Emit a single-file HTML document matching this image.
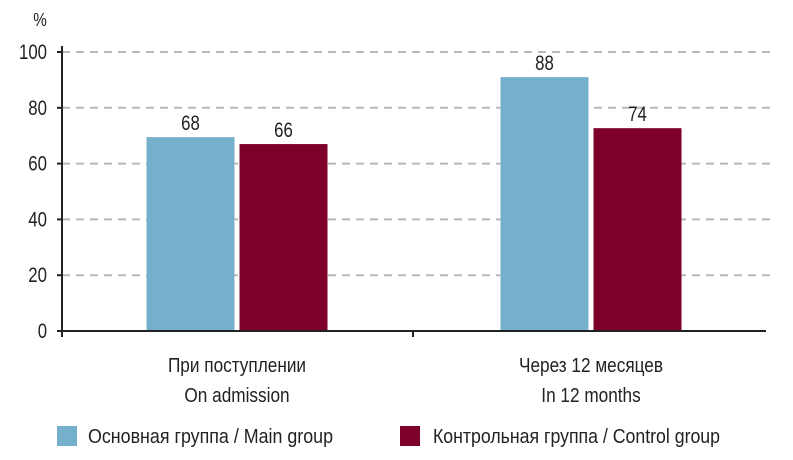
<!DOCTYPE html>
<html><head><meta charset="utf-8">
<style>
html,body{margin:0;padding:0;background:#fff;}
svg{display:block;font-family:"Liberation Sans Narrow","Liberation Sans",sans-serif;}
</style></head>
<body>
<svg id="chart" width="793" height="460" viewBox="0 0 793 460" xmlns="http://www.w3.org/2000/svg"></svg>
<script>
const categoriesRu = ["При поступлении", "Через 12 месяцев"];
const categoriesEn = ["On admission", "In 12 months"];
const seriesNames = ["Основная группа / Main group", "Контрольная группа / Control group"];
const mainGroup = [69.5, 91];
const controlGroup = [67, 72.7];
const mainLabels = [68, 88];
const controlLabels = [66, 74];
const yTicks = [0, 20, 40, 60, 80, 100];
const colors = ["#74b0cc", "#7d002b"];

const NS = "http://www.w3.org/2000/svg";
const svg = document.getElementById("chart");
const X0 = 62, X1 = 770, Y0 = 331, Y100 = 52;
function yScale(v){ return Y0 - (v/100)*(Y0-Y100); }
const catW = (X1-X0)/categoriesRu.length;
function catCenter(i){ return X0 + catW*(i+0.5) - 2; }
const barW = 88, gap = 5;
function mk(tag, attrs, parent){
  const e = document.createElementNS(NS, tag);
  for (const k in attrs) e.setAttribute(k, attrs[k]);
  (parent||svg).appendChild(e);
  return e;
}
function txt(s, attrs, ratio){
  const t = mk("text", attrs); t.textContent = s;
  const w = t.getComputedTextLength();
  t.setAttribute("textLength", (w*(ratio||0.8)).toFixed(1));
  t.setAttribute("lengthAdjust", "spacingAndGlyphs");
  return t;
}

yTicks.forEach(v => {
  const y = yScale(v);
  if (v > 0) {
    const g = mk("line", {x1:X0, x2:772, y1:y, y2:y, stroke:"#b8b8b8", "stroke-width":2, "stroke-dasharray":"8,6"});
    
    
  }
  const tk = mk("line", {x1:X0-5, x2:X0, y1:y, y2:y, stroke:"#222", "stroke-width":2});
  
  
  const t = txt(String(v), {x:47, y:y+7, "text-anchor":"end", "font-size":21, fill:"#222"}, 0.8);
  
  
});
const unit = txt("%", {x:40, y:26, "text-anchor":"middle", "font-size":18, fill:"#222"}, 0.85);



const series = [mainGroup, controlGroup];
const labels = [mainLabels, controlLabels];
categoriesRu.forEach((c, i) => {
  const cx = catCenter(i);
  series.forEach((s, j) => {
    const x = j === 0 ? cx - gap/2 - barW : cx + gap/2;
    const y = yScale(s[i]);
    const r = mk("rect", {x:x, y:y, width:barW, height:Y0-y, fill:colors[j]});
    
    
    const l = txt(String(labels[j][i]), {x:x+barW/2, y:y-7, "text-anchor":"middle", "font-size":21, fill:"#222"}, 0.8);
    
    
  });
  const t1 = txt(c, {x:cx, y:372, "text-anchor":"middle", "font-size":20, fill:"#222"}, 0.86);
  
  
  const t2 = txt(categoriesEn[i], {x:cx, y:402, "text-anchor":"middle", "font-size":20, fill:"#222"}, 0.86);
  
  
});

const ya = mk("line", {x1:X0, x2:X0, y1:46, y2:Y0+6, stroke:"#222", "stroke-width":2});


const xa = mk("line", {x1:X0-5, x2:766, y1:Y0, y2:Y0, stroke:"#222", "stroke-width":2});


for (let i = 1; i < categoriesRu.length; i++) {
  const x = 413;
  const mt = mk("line", {x1:x, x2:x, y1:Y0, y2:Y0+6, stroke:"#222", "stroke-width":2});
  
  
}

const legX = [57, 400], legTX = [88, 433], legTW = [245, 287];
seriesNames.forEach((n, j) => {
  const sw = mk("rect", {x:legX[j], y:426, width:20, height:20, fill:colors[j]});
  
  
  const t = mk("text", {x:legTX[j], y:443, "font-size":20, fill:"#222", textLength:legTW[j], lengthAdjust:"spacingAndGlyphs"});
  t.textContent = n;
  
  
});
</script>
</body></html>
